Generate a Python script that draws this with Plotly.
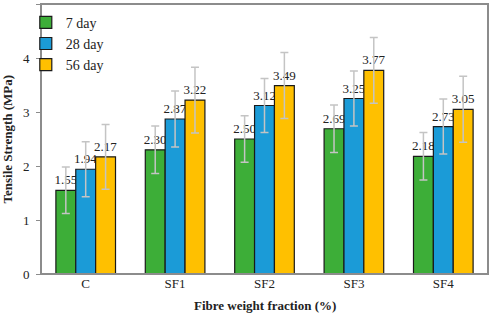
import plotly.graph_objects as go

categories = ["C", "SF1", "SF2", "SF3", "SF4"]
day7 = [1.55, 2.30, 2.50, 2.69, 2.18]
day28 = [1.94, 2.87, 3.12, 3.25, 2.73]
day56 = [2.17, 3.22, 3.49, 3.77, 3.05]
err7 = [0.43, 0.44, 0.43, 0.44, 0.44]
err28 = [0.51, 0.52, 0.50, 0.51, 0.51]
err56 = [0.60, 0.61, 0.61, 0.61, 0.61]
series_names = ["7 day", "28 day", "56 day"]
colors = ["#3dae38", "#1b9bd7", "#ffc000"]

FONT = "Liberation Serif, Times New Roman, serif"

fig = go.Figure()
for name, vals, errs, col in zip(series_names, [day7, day28, day56], [err7, err28, err56], colors):
    fig.add_trace(go.Bar(
        x=categories, y=vals, name=name,
        marker=dict(color=col, line=dict(color="#1a1a1a", width=1.2)),
        error_y=dict(type="data", array=errs, visible=True, color="#c4c4c4", thickness=1.5, width=4),
        text=[f"{v:.2f}" for v in vals], textposition="outside",
        textfont=dict(family=FONT, size=13, color="#222"),
        constraintext="none",
        cliponaxis=False,
    ))

fig.update_layout(
    width=491, height=319,
    margin=dict(l=41, r=3, t=4, b=45, autoexpand=False),
    barmode="group", bargap=0.333, bargroupgap=0,
    plot_bgcolor="white", paper_bgcolor="white",
    font=dict(family=FONT, size=13, color="#222"),
    showlegend=True,
    legend=dict(x=-0.034, y=0.99, xanchor="left", yanchor="top",
                font=dict(family=FONT, size=14, color="#222"),
                bgcolor="rgba(0,0,0,0)", itemwidth=30),
    shapes=[dict(type="rect", xref="paper", yref="paper", x0=0, x1=1, y0=0, y1=1,
                 line=dict(color="#8c8c8c", width=2), layer="above")],
    annotations=[
        dict(text="<b>Fibre weight fraction (%)</b>", xref="paper", yref="paper",
             x=0.5, y=-0.1185, yanchor="middle", showarrow=False,
             font=dict(family=FONT, size=13, color="#222")),
        dict(text="<b>Tensile Strength (MPa)</b>", xref="paper", yref="paper",
             x=-0.075, y=0.5, xanchor="center", yanchor="middle", textangle=-90, showarrow=False,
             font=dict(family=FONT, size=13, color="#222")),
    ],
)
fig.update_xaxes(
    automargin=False, showline=False,
    ticks="", tickfont=dict(family=FONT, size=13, color="#222"),
)
fig.update_yaxes(
    automargin=False, range=[0, 5], dtick=1, showline=False,
    showgrid=False, zeroline=False, ticks="outside", ticklen=4, tickcolor="#8c8c8c",
    ticklabelstandoff=4,
    tickfont=dict(family=FONT, size=13, color="#222"),
)

fig.write_html("out.html", config={"displayModeBar": False},
               post_script="document.body.style.margin='0';document.body.style.padding='0';")
